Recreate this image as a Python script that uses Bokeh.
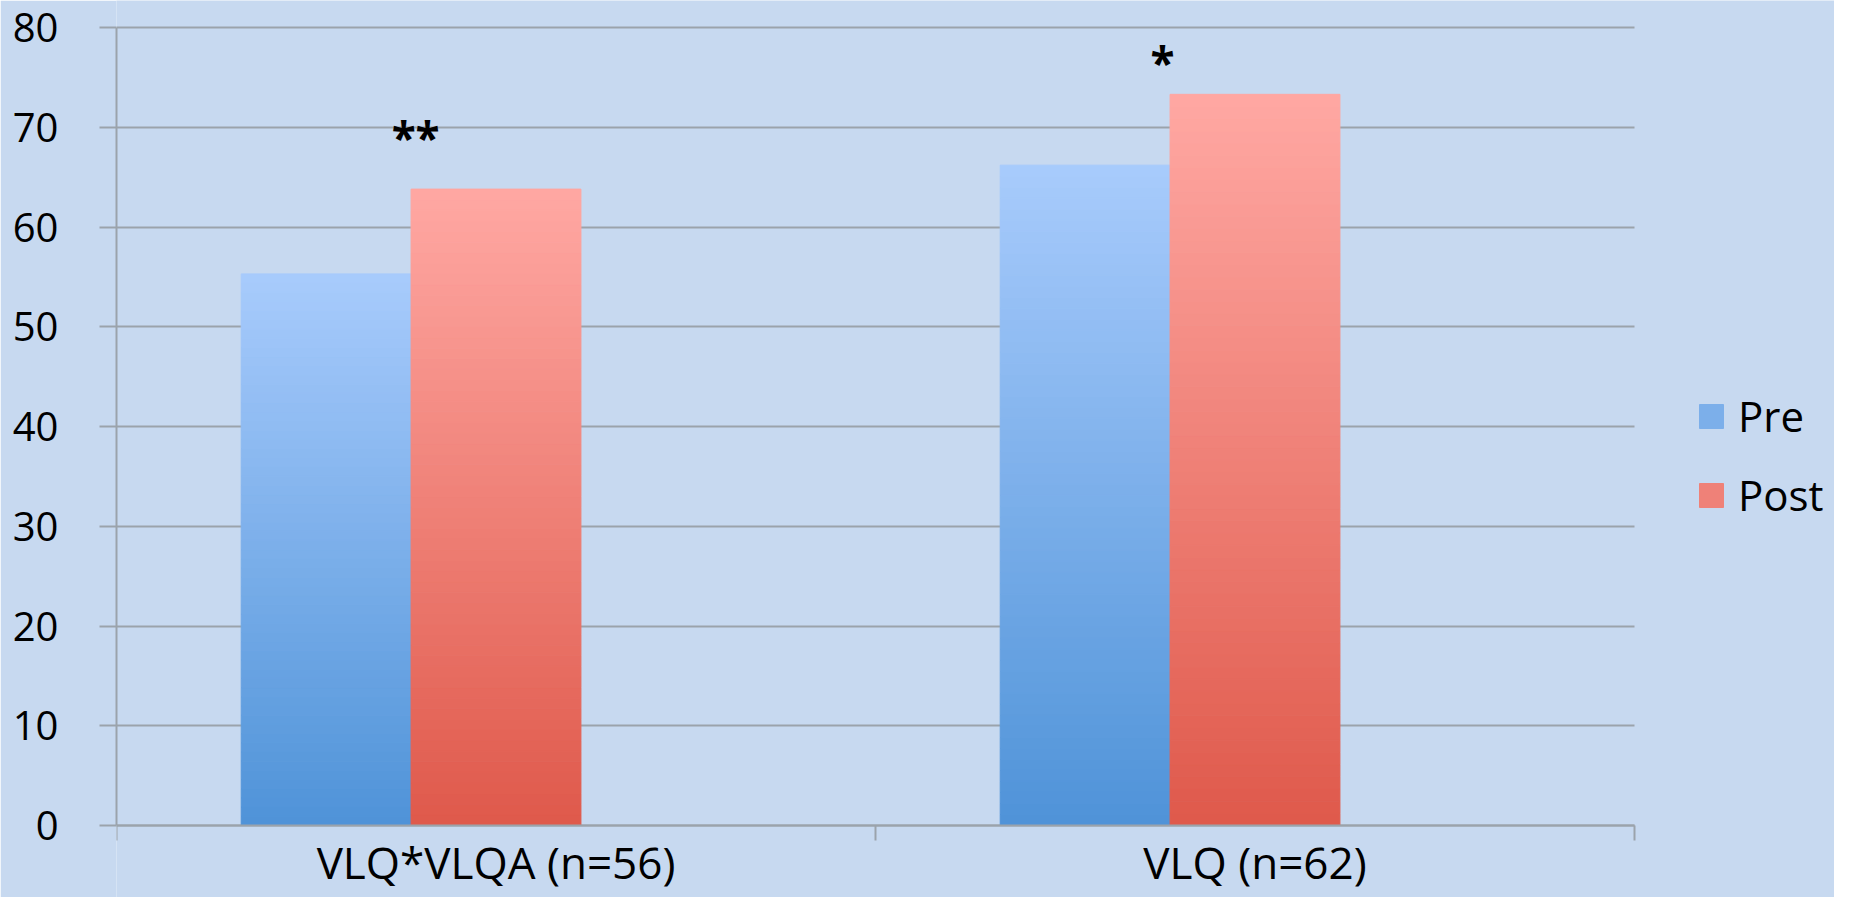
from bokeh.plotting import figure
from bokeh.models import (ColumnDataSource, FixedTicker, Legend, LegendItem, Range1d)
from bokeh.core.properties import value
from bokeh.embed import file_html
from bokeh.resources import INLINE

# ---- data ----
categories = ["VLQ*VLQA (n=56)", "VLQ (n=62)"]
series = ["Pre", "Post"]
pre_values = [55.3, 66.2]
post_values = [63.8, 73.3]
y_ticks = [0, 10, 20, 30, 40, 50, 60, 70, 80]
sig_labels = ["**", "*"]
sig_y = [69.0, 76.5]

# ---- layout (pixels inside the figure) ----
W, H = 1834, 897
FRAME_LEFT = 116
X_DATA_RIGHT = 1634      # where the category axis ends
Y_ZERO = 825             # pixel row of value 0
Y_TOP = 27               # pixel row of the top tick
n_cat = len(categories)
ymax = y_ticks[-1]
ppu = (Y_ZERO - Y_TOP) / ymax
x_end = n_cat * (W - FRAME_LEFT) / (X_DATA_RIGHT - FRAME_LEFT)
y_start = -(H - Y_ZERO) / ppu
y_end = ymax + Y_TOP / ppu

# ---- style ----
BG = "#c7d9f0"
GRID = "#9ba3ab"
FONT = "Open Sans"
top_colors = {"Pre": (0xa8, 0xcb, 0xfc), "Post": (0xff, 0xa8, 0xa3)}
bot_colors = {"Pre": (0x4f, 0x93, 0xd8), "Post": (0xdf, 0x59, 0x4b)}
BAR_W = 0.2238
N = 60

p = figure(width=W, height=H, output_backend="svg", toolbar_location=None,
           x_range=Range1d(0, x_end), y_range=Range1d(y_start, y_end),
           min_border_left=FRAME_LEFT, min_border_right=0, min_border_top=0, min_border_bottom=0)
p.background_fill_color = BG
p.border_fill_color = BG
p.outline_line_color = None

def hexcol(c):
    return "#%02x%02x%02x" % tuple(int(round(v)) for v in c)

renderers = {}
for name, vals in zip(series, [pre_values, post_values]):
    left, right, bottom, top, color = [], [], [], [], []
    for i, v in enumerate(vals):
        center = i + 0.5
        if name == "Pre":
            l, r = center - 1.5 * BAR_W, center - 0.5 * BAR_W
        else:
            l, r = center - 0.5 * BAR_W, center + 0.5 * BAR_W
        for k in range(N):
            t = (k + 0.5) / N
            c0, c1 = bot_colors[name], top_colors[name]
            col = tuple(c0[j] + (c1[j] - c0[j]) * t for j in range(3))
            left.append(l); right.append(r)
            bottom.append(v * k / N); top.append(v * (k + 1) / N)
            color.append(hexcol(col))
    src = ColumnDataSource(dict(left=left, right=right, bottom=bottom, top=top, color=color))
    renderers[name] = p.quad(left="left", right="right", bottom="bottom", top="top",
                             fill_color="color", line_color="color", line_width=1, source=src)

# significance markers
sig_x = [i + 0.5 - 0.5 * BAR_W for i in range(n_cat)]
sig_x[0] += 0.006
sig_x[1] -= 0.01
p.text(x=sig_x, y=sig_y, text=sig_labels, text_font=value(FONT), text_font_size="44px",
       text_font_style="bold", text_align="center", text_baseline="alphabetic", text_color="black")

# grid
p.xgrid.visible = False
p.ygrid.ticker = FixedTicker(ticks=y_ticks)
p.ygrid.grid_line_color = GRID
p.ygrid.grid_line_width = 2
p.ygrid.cross_bounds = (0, n_cat)

# y axis
ya = p.yaxis[0]
ya.ticker = FixedTicker(ticks=y_ticks)
ya.bounds = (0, ymax)
ya.axis_line_color = GRID
ya.axis_line_width = 2
ya.major_tick_line_color = GRID
ya.major_tick_line_width = 2
ya.major_tick_out = 17
ya.major_tick_in = 0
ya.minor_tick_line_color = None
ya.major_label_text_font = FONT
ya.major_label_text_font_size = "40px"
ya.major_label_text_color = "black"
ya.major_label_standoff = 41

# x axis (fixed at value 0)
xa = p.xaxis[0]
xa.fixed_location = 0
xa.bounds = (0, n_cat)
xa.ticker = FixedTicker(ticks=[i + 0.5 for i in range(n_cat)],
                        minor_ticks=list(range(n_cat + 1)))
xa.major_label_overrides = {i + 0.5: c for i, c in enumerate(categories)}
xa.axis_line_color = GRID
xa.axis_line_width = 2
xa.major_tick_line_color = None
xa.major_tick_out = 0
xa.major_tick_in = 0
xa.minor_tick_line_color = GRID
xa.minor_tick_line_width = 2
xa.minor_tick_out = 15
xa.minor_tick_in = 0
xa.major_label_text_font = FONT
xa.major_label_text_font_size = "44px"
xa.major_label_text_color = "black"
xa.major_label_standoff = -9

# legend
items = [LegendItem(label=name, renderers=[renderers[name]], index=N // 2) for name in series]
legend = Legend(items=items, location=(1580, 374), glyph_width=30, glyph_height=30,
                label_text_font=FONT, label_text_font_size="42px", label_text_color="black",
                label_standoff=12, spacing=22, padding=0, margin=0,
                border_line_color=None, background_fill_alpha=0)
p.add_layout(legend)

open("out.html", "w").write(file_html(p, INLINE))
